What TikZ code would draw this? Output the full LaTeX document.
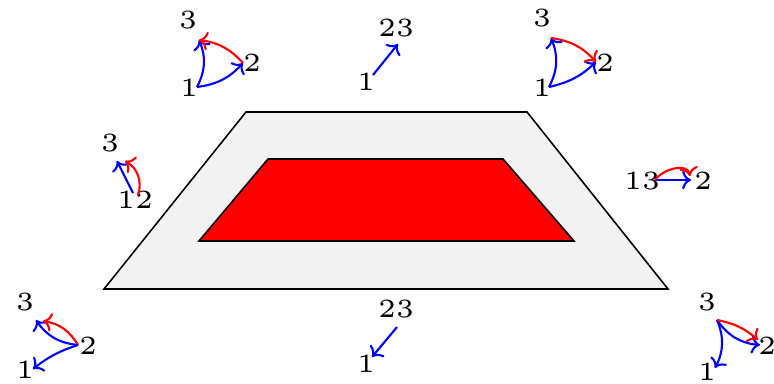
\documentclass[tikz,border=0pt]{standalone}
\usetikzlibrary{arrows.meta,positioning,calc}
\definecolor{Region}{HTML}{F2F2F2}
\newcommand{\lab}[1]{\scalebox{2}{\tiny #1}}
\tikzset{
 lbl/.style={inner sep=0pt},
 barrow/.style={->, draw=blue, line width=0.8pt},
 rarrow/.style={->, draw=red, line width=0.8pt},
 outer/.style={draw=black, fill=Region, line width=0.6pt},
 inner/.style={draw=black, fill=red, line width=0.6pt}
}
\begin{document}
\begin{tikzpicture}[x=3.8pt,y=3.8pt]
\useasboundingbox (0,0) rectangle (77.4,38.3);
% regions
\draw[outer] (10.4,9.4) -- (66.8,9.4) -- (52.7,27.1) -- (24.6,27.1) -- cycle;
\draw[inner] (19.9,14.2) -- (57.4,14.2) -- (50.3,22.4) -- (26.8,22.4) -- cycle;
% top left
\node[lbl] (tl3) at (18.8,36.3) {\lab{3}};
\node[lbl] (tl2) at (25.2,32.0) {\lab{2}};
\node[lbl] (tl1) at (18.9,29.5) {\lab{1}};
\coordinate (a1) at (19.7,29.6);\coordinate (a2) at (24.3,32.0);\coordinate (a3) at (19.9,34.3);
\draw[barrow] (a1) to[bend right=20] (a2);
\draw[barrow] (a1) to[bend right=25] (a3);
\draw[rarrow] (a2) to[bend right=20] (a3);
% top middle
\node[lbl] (tm23) at (39.6,35.5) {\lab{23}};
\node[lbl] (tm1) at (36.6,30.1) {\lab{1}};
\coordinate (e1) at (37.3,30.8);\coordinate (e2) at (39.8,33.9);
\draw[barrow] (e1) -- (e2);
% top right
\node[lbl] (tr3) at (54.2,36.5) {\lab{3}};
\node[lbl] (tr2) at (60.5,32.0) {\lab{2}};
\node[lbl] (tr1) at (54.2,29.5) {\lab{1}};
\coordinate (b1) at (54.9,29.6);\coordinate (b2) at (59.6,32.1);\coordinate (b3) at (55.1,34.5);
\draw[barrow] (b1) to[bend right=15] (b2);
\draw[barrow] (b1) to[bend right=25] (b3);
\draw[rarrow] (b3) to[bend left=20] (b2);
% left middle
\node[lbl] (lm3) at (11.0,24.0) {\lab{3}};
\node[lbl] (lm12) at (13.5,18.3) {\lab{12}};
\coordinate (f1) at (13.3,19.0);\coordinate (f3) at (11.7,22.2);
\coordinate (g2) at (13.8,18.8);\coordinate (g3) at (12.5,22.2);
\draw[barrow] (f1) -- (f3);
\draw[rarrow] (g2) to[bend right=40] (g3);
% right middle
\node[lbl] (rm13) at (64.2,20.2) {\lab{13}};
\node[lbl] (rm2) at (70.3,20.2) {\lab{2}};
\coordinate (h1) at (65.5,20.3);\coordinate (h2) at (69.1,20.3);\coordinate (h3) at (69.0,20.7);
\draw[barrow] (h1) -- (h2);
\draw[rarrow] (h1) to[out=55,in=100] (h3);
% bottom left
\node[lbl] (bl3) at (2.5,8.1) {\lab{3}};
\node[lbl] (bl2) at (8.8,3.7) {\lab{2}};
\node[lbl] (bl1) at (2.5,1.3) {\lab{1}};
\coordinate (c1) at (3.3,1.4);\coordinate (c2) at (7.8,3.8);\coordinate (c3) at (3.6,6.3);\coordinate (c4) at (4.3,6.2);
\draw[barrow] (c2) to[bend left=25] (c3);
\draw[rarrow] (c2) to[bend right=25] (c4);
\draw[barrow] (c2) to[bend right=10] (c1);
% bottom middle
\node[lbl] (bm23) at (39.6,7.4) {\lab{23}};
\node[lbl] (bm1) at (36.6,1.9) {\lab{1}};
\coordinate (k1) at (39.7,5.6);\coordinate (k2) at (37.2,2.6);
\draw[barrow] (k1) -- (k2);
% bottom right
\node[lbl] (br3) at (70.7,8.1) {\lab{3}};
\node[lbl] (br2) at (76.7,3.7) {\lab{2}};
\node[lbl] (br1) at (70.7,1.1) {\lab{1}};
\coordinate (d1) at (71.5,1.5);\coordinate (d2) at (76.0,3.8);\coordinate (d3) at (71.7,6.3);\coordinate (d4) at (75.8,4.3);
\draw[barrow] (d3) to[bend left=25] (d1);
\draw[barrow] (d3) to[bend right=25] (d2);
\draw[rarrow] (d3) to[bend left=15] (d4);
\end{tikzpicture}
\end{document}
